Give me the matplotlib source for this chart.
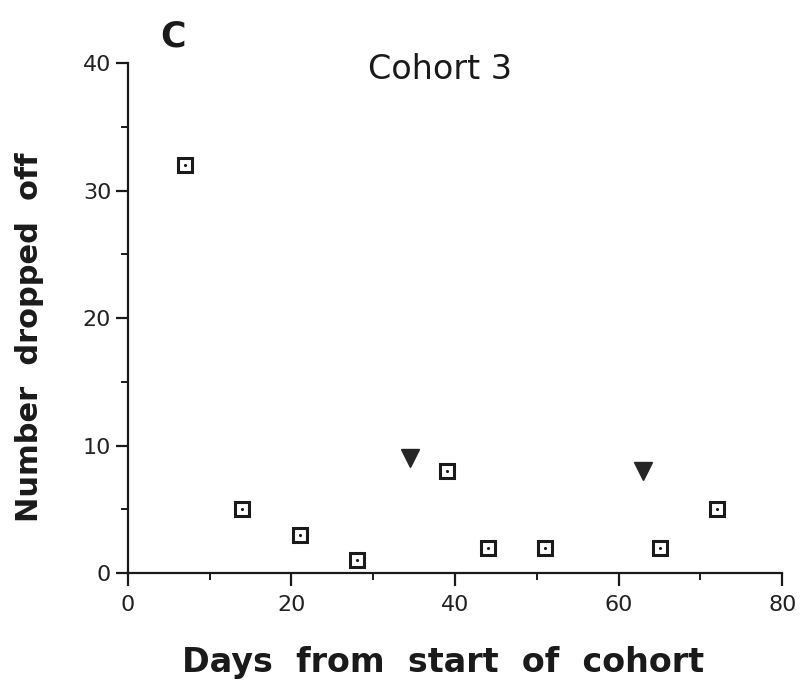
import matplotlib.pyplot as plt
from matplotlib.ticker import MultipleLocator

# drop-off counts per collection day
days = [7, 14, 21, 28, 39, 44, 51, 65, 72]
dropped = [32, 5, 3, 1, 8, 2, 2, 2, 5]

# days marked with a filled triangle
tri_days = [34.5, 63]
tri_vals = [9, 8]

plt.rcParams["font.family"] = ["DejaVu Sans"]

fig = plt.figure(figsize=(8.09, 6.93), dpi=100)
ax = fig.add_axes([0.158, 0.173, 0.809, 0.736])

ax.plot(days, dropped, linestyle="none", marker="s", ms=9.5, mfc="white",
        mec="#1a1a1a", mew=2.2, zorder=3)
ax.plot(days, dropped, linestyle="none", marker=".", ms=2.5, color="#1a1a1a", zorder=4)
ax.plot(tri_days, tri_vals, linestyle="none", marker="v", ms=13,
        color="#262626", zorder=3)

ax.set_xlim(0, 80)
ax.set_ylim(0, 40)
ax.xaxis.set_major_locator(MultipleLocator(20))
ax.xaxis.set_minor_locator(MultipleLocator(10))
ax.yaxis.set_major_locator(MultipleLocator(10))
ax.yaxis.set_minor_locator(MultipleLocator(5))

for side in ("top", "right"):
    ax.spines[side].set_visible(False)
for side in ("left", "bottom"):
    ax.spines[side].set_linewidth(1.6)
    ax.spines[side].set_color("#1a1a1a")

ax.tick_params(which="major", direction="out", length=9, width=1.6,
               labelsize=16, color="#1a1a1a", labelcolor="#222222", pad=3)
ax.tick_params(which="minor", direction="out", length=5, width=1.4, color="#1a1a1a")
ax.tick_params(axis="x", pad=7)

ax.set_xlabel("Days  from  start  of  cohort", fontsize=24, fontweight="bold",
              color="#1a1a1a", va="center")
ax.xaxis.set_label_coords(0.482, -0.175)
ax.set_ylabel("Number  dropped  off", fontsize=22, fontweight="heavy",
              color="#1a1a1a", va="center")
ax.yaxis.set_label_coords(-0.15, 0.463)

fig.text(0.544, 0.899, "Cohort 3", fontsize=24, ha="center", va="center",
         color="#1a1a1a")
fig.text(0.214, 0.948, "C", fontsize=25, fontweight="bold", ha="center",
         va="center", color="#1a1a1a")

fig.savefig("out.png", dpi=100, facecolor="white")
